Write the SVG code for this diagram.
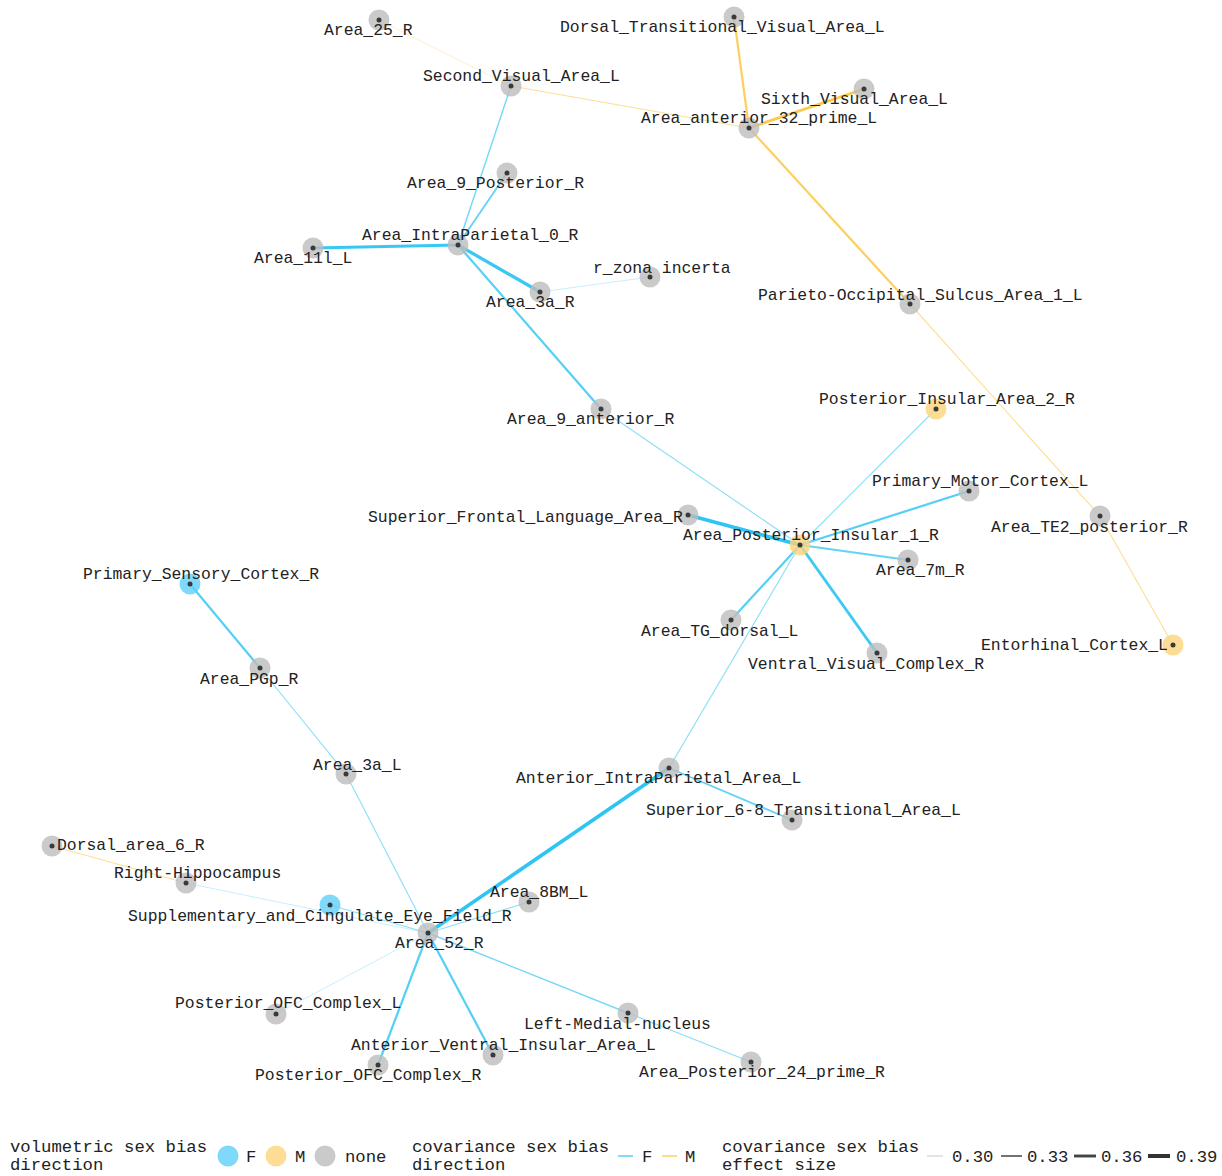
<svg xmlns="http://www.w3.org/2000/svg" width="1222" height="1176" viewBox="0 0 1222 1176">
<style>
text{font-family:"Liberation Mono","DejaVu Sans Mono",monospace;font-size:16.4px;fill:#222}
.lg{font-size:17.3px}
.n{fill:#bdbdbd;fill-opacity:0.8}
.nF{fill:#5fd0fa;fill-opacity:0.8}
.nM{fill:#fdd57a;fill-opacity:0.8}
.d{fill:#3a3a3a}
.F{stroke:#2ec4f3;fill:none}
.M{stroke:#fcc43c;fill:none}
.G{stroke:#333;fill:none}
.v30{stroke-width:0.8;stroke-opacity:0.35}
.v31{stroke-width:1.15;stroke-opacity:0.55}
.v32{stroke-width:1.5;stroke-opacity:0.65}
.v33{stroke-width:1.85;stroke-opacity:0.75}
.v34{stroke-width:2.2;stroke-opacity:0.82}
.v36{stroke-width:2.9;stroke-opacity:0.92}
.v37{stroke-width:3.2;stroke-opacity:0.95}
.v38{stroke-width:3.6;stroke-opacity:1}
.v39{stroke-width:3.95;stroke-opacity:1}
</style>
<rect width="1222" height="1176" fill="#fff"/>
<g id="connectors">
<line class="M v30" x1="379" y1="20" x2="511" y2="86"/>
<line class="M v31" x1="511" y1="86" x2="749" y2="128"/>
<line class="M v34" x1="734" y1="17" x2="749" y2="128"/>
<line class="M v36" x1="864" y1="89" x2="749" y2="128"/>
<line class="M v34" x1="749" y1="128" x2="910" y2="304"/>
<line class="M v31" x1="910" y1="304" x2="1100" y2="516"/>
<line class="M v31" x1="1100" y1="516" x2="1173" y2="645"/>
<line class="M v31" x1="52" y1="846" x2="186" y2="883"/>
<line class="F v32" x1="511" y1="86" x2="458" y2="245"/>
<line class="F v33" x1="507" y1="173" x2="458" y2="245"/>
<line class="F v37" x1="313" y1="248" x2="458" y2="245"/>
<line class="F v37" x1="458" y1="245" x2="540" y2="292"/>
<line class="F v30" x1="540" y1="292" x2="650" y2="277"/>
<line class="F v34" x1="458" y1="245" x2="601" y2="409"/>
<line class="F v31" x1="601" y1="409" x2="800" y2="545"/>
<line class="F v31" x1="936" y1="409" x2="800" y2="545"/>
<line class="F v34" x1="969" y1="491" x2="800" y2="545"/>
<line class="F v38" x1="688" y1="515" x2="800" y2="545"/>
<line class="F v33" x1="908" y1="560" x2="800" y2="545"/>
<line class="F v34" x1="731" y1="620" x2="800" y2="545"/>
<line class="F v36" x1="877" y1="653" x2="800" y2="545"/>
<line class="F v31" x1="800" y1="545" x2="669" y2="768"/>
<line class="F v34" x1="190" y1="584" x2="260" y2="668"/>
<line class="F v31" x1="260" y1="668" x2="346" y2="774"/>
<line class="F v31" x1="346" y1="774" x2="428" y2="933"/>
<line class="F v33" x1="669" y1="768" x2="792" y2="820"/>
<line class="F v38" x1="669" y1="768" x2="428" y2="933"/>
<line class="F v30" x1="186" y1="883" x2="428" y2="933"/>
<line class="F v31" x1="330" y1="905" x2="428" y2="933"/>
<line class="F v31" x1="529" y1="902" x2="428" y2="933"/>
<line class="F v30" x1="428" y1="933" x2="276" y2="1014"/>
<line class="F v34" x1="428" y1="933" x2="378" y2="1065"/>
<line class="F v34" x1="428" y1="933" x2="493" y2="1055"/>
<line class="F v32" x1="428" y1="933" x2="628" y2="1013"/>
<line class="F v31" x1="628" y1="1013" x2="751" y2="1062"/>
</g>
<g id="n_Area_25_R"><circle class="n" cx="379" cy="20" r="10.5"/><circle class="d" cx="379" cy="20" r="2.5"/><text x="324" y="35">Area_25_R</text></g>
<g id="n_Dorsal_Transitional_Visual_Area_L"><circle class="n" cx="734" cy="17" r="10.5"/><circle class="d" cx="734" cy="17" r="2.5"/><text x="560" y="32">Dorsal_Transitional_Visual_Area_L</text></g>
<g id="n_Second_Visual_Area_L"><circle class="n" cx="511" cy="86" r="10.5"/><circle class="d" cx="511" cy="86" r="2.5"/><text x="423" y="81">Second_Visual_Area_L</text></g>
<g id="n_Sixth_Visual_Area_L"><circle class="n" cx="864" cy="89" r="10.5"/><circle class="d" cx="864" cy="89" r="2.5"/><text x="761" y="104">Sixth_Visual_Area_L</text></g>
<g id="n_Area_anterior_32_prime_L"><circle class="n" cx="749" cy="128" r="10.5"/><circle class="d" cx="749" cy="128" r="2.5"/><text x="641" y="123">Area_anterior_32_prime_L</text></g>
<g id="n_Area_9_Posterior_R"><circle class="n" cx="507" cy="173" r="10.5"/><circle class="d" cx="507" cy="173" r="2.5"/><text x="407" y="188">Area_9_Posterior_R</text></g>
<g id="n_Area_IntraParietal_0_R"><circle class="n" cx="458" cy="245" r="10.5"/><circle class="d" cx="458" cy="245" r="2.5"/><text x="362" y="240">Area_IntraParietal_0_R</text></g>
<g id="n_Area_11l_L"><circle class="n" cx="313" cy="248" r="10.5"/><circle class="d" cx="313" cy="248" r="2.5"/><text x="254" y="263">Area_11l_L</text></g>
<g id="n_r_zona_incerta"><circle class="n" cx="650" cy="277" r="10.5"/><circle class="d" cx="650" cy="277" r="2.5"/><text x="593" y="273">r_zona incerta</text></g>
<g id="n_Area_3a_R"><circle class="n" cx="540" cy="292" r="10.5"/><circle class="d" cx="540" cy="292" r="2.5"/><text x="486" y="307">Area_3a_R</text></g>
<g id="n_Parieto-Occipital_Sulcus_Area_1_L"><circle class="n" cx="910" cy="304" r="10.5"/><circle class="d" cx="910" cy="304" r="2.5"/><text x="758" y="300">Parieto-Occipital_Sulcus_Area_1_L</text></g>
<g id="n_Area_9_anterior_R"><circle class="n" cx="601" cy="409" r="10.5"/><circle class="d" cx="601" cy="409" r="2.5"/><text x="507" y="424">Area_9_anterior_R</text></g>
<g id="n_Posterior_Insular_Area_2_R"><circle class="nM" cx="936" cy="409" r="10.5"/><circle class="d" cx="936" cy="409" r="2.5"/><text x="819" y="404">Posterior_Insular_Area_2_R</text></g>
<g id="n_Primary_Motor_Cortex_L"><circle class="n" cx="969" cy="491" r="10.5"/><circle class="d" cx="969" cy="491" r="2.5"/><text x="872" y="486">Primary_Motor_Cortex_L</text></g>
<g id="n_Superior_Frontal_Language_Area_R"><circle class="n" cx="688" cy="515" r="10.5"/><circle class="d" cx="688" cy="515" r="2.5"/><text x="368" y="522">Superior_Frontal_Language_Area_R</text></g>
<g id="n_Area_TE2_posterior_R"><circle class="n" cx="1100" cy="516" r="10.5"/><circle class="d" cx="1100" cy="516" r="2.5"/><text x="991" y="532">Area_TE2_posterior_R</text></g>
<g id="n_Area_Posterior_Insular_1_R"><circle class="nM" cx="800" cy="545" r="10.5"/><circle class="d" cx="800" cy="545" r="2.5"/><text x="683" y="540">Area_Posterior_Insular_1_R</text></g>
<g id="n_Area_7m_R"><circle class="n" cx="908" cy="560" r="10.5"/><circle class="d" cx="908" cy="560" r="2.5"/><text x="876" y="575">Area_7m_R</text></g>
<g id="n_Area_TG_dorsal_L"><circle class="n" cx="731" cy="620" r="10.5"/><circle class="d" cx="731" cy="620" r="2.5"/><text x="641" y="636">Area_TG_dorsal_L</text></g>
<g id="n_Ventral_Visual_Complex_R"><circle class="n" cx="877" cy="653" r="10.5"/><circle class="d" cx="877" cy="653" r="2.5"/><text x="748" y="669">Ventral_Visual_Complex_R</text></g>
<g id="n_Entorhinal_Cortex_L"><circle class="nM" cx="1173" cy="645" r="10.5"/><circle class="d" cx="1173" cy="645" r="2.5"/><text x="981" y="650">Entorhinal_Cortex_L</text></g>
<g id="n_Primary_Sensory_Cortex_R"><circle class="nF" cx="190" cy="584" r="10.5"/><circle class="d" cx="190" cy="584" r="2.5"/><text x="83" y="579">Primary_Sensory_Cortex_R</text></g>
<g id="n_Area_PGp_R"><circle class="n" cx="260" cy="668" r="10.5"/><circle class="d" cx="260" cy="668" r="2.5"/><text x="200" y="684">Area_PGp_R</text></g>
<g id="n_Area_3a_L"><circle class="n" cx="346" cy="774" r="10.5"/><circle class="d" cx="346" cy="774" r="2.5"/><text x="313" y="770">Area_3a_L</text></g>
<g id="n_Anterior_IntraParietal_Area_L"><circle class="n" cx="669" cy="768" r="10.5"/><circle class="d" cx="669" cy="768" r="2.5"/><text x="516" y="783">Anterior_IntraParietal_Area_L</text></g>
<g id="n_Superior_6-8_Transitional_Area_L"><circle class="n" cx="792" cy="820" r="10.5"/><circle class="d" cx="792" cy="820" r="2.5"/><text x="646" y="815">Superior_6-8_Transitional_Area_L</text></g>
<g id="n_Dorsal_area_6_R"><circle class="n" cx="52" cy="846" r="10.5"/><circle class="d" cx="52" cy="846" r="2.5"/><text x="57" y="850">Dorsal_area_6_R</text></g>
<g id="n_Right-Hippocampus"><circle class="n" cx="186" cy="883" r="10.5"/><circle class="d" cx="186" cy="883" r="2.5"/><text x="114" y="878">Right-Hippocampus</text></g>
<g id="n_Supplementary_and_Cingulate_Eye_Field_R"><circle class="nF" cx="330" cy="905" r="10.5"/><circle class="d" cx="330" cy="905" r="2.5"/><text x="128" y="921">Supplementary_and_Cingulate_Eye_Field_R</text></g>
<g id="n_Area_8BM_L"><circle class="n" cx="529" cy="902" r="10.5"/><circle class="d" cx="529" cy="902" r="2.5"/><text x="490" y="897">Area_8BM_L</text></g>
<g id="n_Area_52_R"><circle class="n" cx="428" cy="933" r="10.5"/><circle class="d" cx="428" cy="933" r="2.5"/><text x="395" y="948">Area_52_R</text></g>
<g id="n_Posterior_OFC_Complex_L"><circle class="n" cx="276" cy="1014" r="10.5"/><circle class="d" cx="276" cy="1014" r="2.5"/><text x="175" y="1008">Posterior_OFC_Complex_L</text></g>
<g id="n_Left-Medial-nucleus"><circle class="n" cx="628" cy="1013" r="10.5"/><circle class="d" cx="628" cy="1013" r="2.5"/><text x="524" y="1029">Left-Medial-nucleus</text></g>
<g id="n_Anterior_Ventral_Insular_Area_L"><circle class="n" cx="493" cy="1055" r="10.5"/><circle class="d" cx="493" cy="1055" r="2.5"/><text x="351" y="1050">Anterior_Ventral_Insular_Area_L</text></g>
<g id="n_Posterior_OFC_Complex_R"><circle class="n" cx="378" cy="1065" r="10.5"/><circle class="d" cx="378" cy="1065" r="2.5"/><text x="255" y="1080">Posterior_OFC_Complex_R</text></g>
<g id="n_Area_Posterior_24_prime_R"><circle class="n" cx="751" cy="1062" r="10.5"/><circle class="d" cx="751" cy="1062" r="2.5"/><text x="639" y="1077">Area_Posterior_24_prime_R</text></g>
<g id="legend">
<text class="lg" x="10" y="1152">volumetric sex bias</text>
<text class="lg" x="10" y="1170">direction</text>
<circle class="nF" cx="228" cy="1156" r="10.5"/>
<text class="lg" x="246" y="1162">F</text>
<circle class="nM" cx="276" cy="1156" r="10.5"/>
<text class="lg" x="295" y="1162">M</text>
<circle class="n" cx="325" cy="1156" r="10.5"/>
<text class="lg" x="345" y="1162">none</text>
<text class="lg" x="412" y="1152">covariance sex bias</text>
<text class="lg" x="412" y="1170">direction</text>
<line class="F" stroke-width="2" stroke-opacity="0.6" x1="618" y1="1156" x2="633" y2="1156"/>
<text class="lg" x="642" y="1162">F</text>
<line class="M" stroke-width="2" stroke-opacity="0.6" x1="662" y1="1156" x2="677" y2="1156"/>
<text class="lg" x="685" y="1162">M</text>
<text class="lg" x="722" y="1152">covariance sex bias</text>
<text class="lg" x="722" y="1170">effect size</text>
<line class="G v30" x1="927" y1="1156" x2="943" y2="1156"/>
<text class="lg" x="952" y="1162">0.30</text>
<line class="G v33" x1="1001" y1="1156" x2="1022" y2="1156"/>
<text class="lg" x="1027" y="1162">0.33</text>
<line class="G v36" x1="1074" y1="1156" x2="1096" y2="1156"/>
<text class="lg" x="1101" y="1162">0.36</text>
<line class="G v39" x1="1148" y1="1156" x2="1170" y2="1156"/>
<text class="lg" x="1176" y="1162">0.39</text>
</g>
</svg>
